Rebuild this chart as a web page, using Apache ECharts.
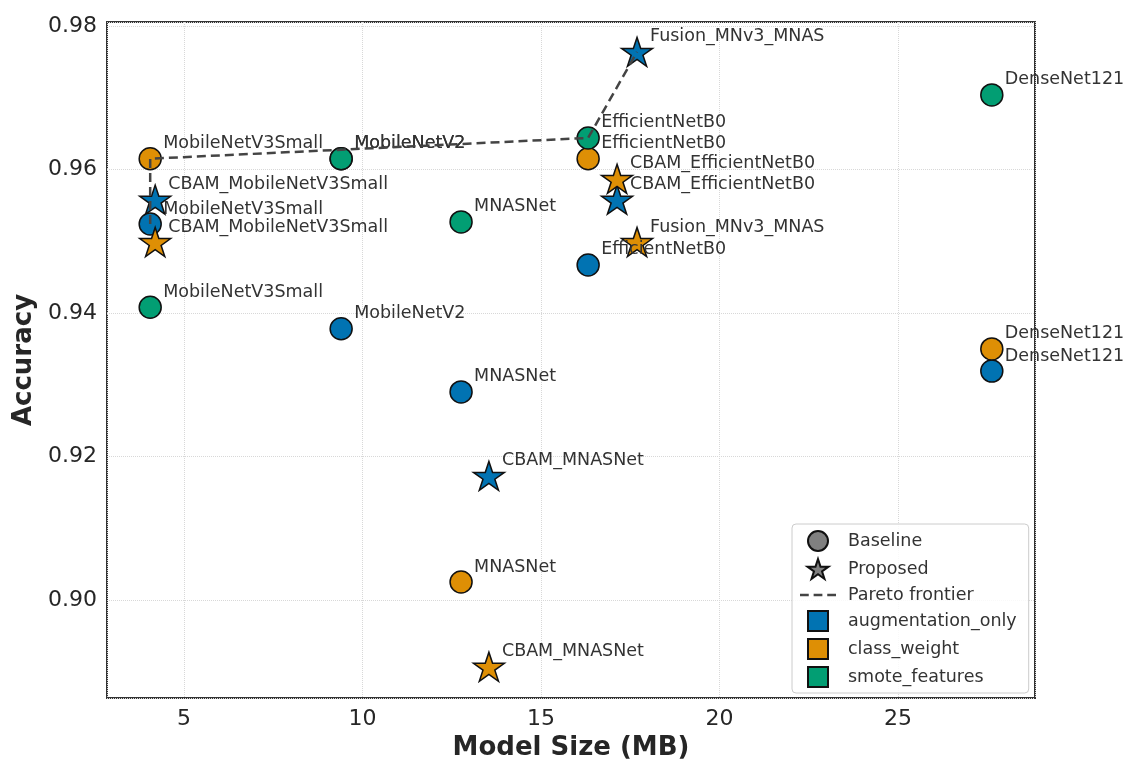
<!DOCTYPE html>
<html>
<head>
<meta charset="utf-8">
<script src="https://cdn.jsdelivr.net/npm/echarts@6/dist/echarts.min.js"></script>
<style>
  html, body { margin: 0; padding: 0; background: #fff; }
  #chart { width: 1126px; height: 763px; }
</style>
</head>
<body>
<div id="chart"></div>
<script>
// data: [model size (MB), accuracy, model name]
var groups = ['augmentation_only', 'class_weight', 'smote_features'];
var colors = ['#0173b2', '#de8f05', '#029e73'];

var baselineAug = [
  [4.05, 0.9524, 'MobileNetV3Small'],
  [9.40, 0.9378, 'MobileNetV2'],
  [12.76, 0.9290, 'MNASNet'],
  [16.32, 0.9467, 'EfficientNetB0'],
  [27.63, 0.9319, 'DenseNet121']
];
var baselineCw = [
  [4.05, 0.9615, 'MobileNetV3Small'],
  [9.40, 0.9615, 'MobileNetV2'],
  [12.76, 0.9025, 'MNASNet'],
  [16.32, 0.9615, 'EfficientNetB0'],
  [27.63, 0.9350, 'DenseNet121']
];
var baselineSmote = [
  [4.05, 0.9408, 'MobileNetV3Small'],
  [9.40, 0.9615, 'MobileNetV2'],
  [12.76, 0.9527, 'MNASNet'],
  [16.32, 0.9644, 'EfficientNetB0'],
  [27.63, 0.9704, 'DenseNet121']
];
var proposedAug = [
  [4.19, 0.9558, 'CBAM_MobileNetV3Small'],
  [13.54, 0.9173, 'CBAM_MNASNet'],
  [17.13, 0.9558, 'CBAM_EfficientNetB0'],
  [17.69, 0.9764, 'Fusion_MNv3_MNAS']
];
var proposedCw = [
  [4.19, 0.9499, 'CBAM_MobileNetV3Small'],
  [13.54, 0.8907, 'CBAM_MNASNet'],
  [17.13, 0.9587, 'CBAM_EfficientNetB0'],
  [17.69, 0.9499, 'Fusion_MNv3_MNAS']
];
var proposedSmote = [];
var pareto = [
  [4.05, 0.9524],
  [4.05, 0.9615],
  [16.32, 0.9644],
  [17.69, 0.9764]
];

var starPath = 'path://M50,0L61.23,34.55L97.55,34.55L68.17,55.9L79.39,90.45L50,69.1L20.61,90.45L31.83,55.9L2.45,34.55L38.77,34.55Z';
var squarePath = 'path://M0,0L10,0L10,10L0,10Z';
var dashPath = 'path://M0,0L9,0L9,2.6L0,2.6Z M14,0L23,0L23,2.6L14,2.6Z M28,0L37,0L37,2.6L28,2.6Z';

var chart = echarts.init(document.getElementById('chart'));

function labelOpt() {
  return {
    show: true,
    position: 'inside',
    align: 'left',
    verticalAlign: 'middle',
    offset: [13, -15],
    formatter: function (p) { return p.data[2]; },
    color: '#333',
    fontSize: 17.5,
    fontFamily: 'DejaVu Sans'
  };
}

var series = [];
[baselineAug, baselineCw, baselineSmote].forEach(function (d, i) {
  series.push({
    name: groups[i] + ' baseline',
    type: 'scatter',
    data: d,
    symbol: 'circle',
    symbolSize: 22,
    z: 2,
    itemStyle: { color: colors[i], borderColor: '#111', borderWidth: 1.5, opacity: 1 },
    label: labelOpt()
  });
});
[proposedAug, proposedCw, proposedSmote].forEach(function (d, i) {
  series.push({
    name: groups[i] + ' proposed',
    type: 'scatter',
    data: d,
    symbol: starPath,
    symbolSize: [31, 29],
    z: 2,
    itemStyle: { color: colors[i], borderColor: '#111', borderWidth: 1.5, opacity: 1 },
    label: labelOpt()
  });
});
series.push({
  name: 'Pareto frontier',
  type: 'line',
  data: pareto,
  symbol: 'none',
  symbolKeepAspect: true,
  z: 4,
  itemStyle: { color: '#444' },
  lineStyle: { color: '#444', width: 2.5, type: [9, 5] }
});
// legend-only entries
series.push({
  name: 'Baseline', type: 'scatter', data: [], symbol: 'circle', symbolKeepAspect: true,
  itemStyle: { color: '#808080', borderColor: '#111', borderWidth: 1.5, opacity: 1 }
});
series.push({
  name: 'Proposed', type: 'scatter', data: [], symbol: starPath, symbolKeepAspect: true,
  itemStyle: { color: '#808080', borderColor: '#111', borderWidth: 1.5, opacity: 1 }
});
groups.forEach(function (g, i) {
  series.push({
    name: g, type: 'scatter', data: [], symbol: squarePath, symbolKeepAspect: true,
    itemStyle: { color: colors[i], borderColor: '#111', borderWidth: 1.5, opacity: 1 }
  });
});

var option = {
  backgroundColor: '#fff',
  animation: false,
  grid: {
    left: 107, right: 91, top: 22, bottom: 65,
    containLabel: false,
    outerBoundsMode: 'none',
    show: true, borderColor: '#333', borderWidth: 2, backgroundColor: 'transparent'
  },
  xAxis: {
    type: 'value',
    min: 2.84, max: 28.84,
    splitNumber: 5,
    name: 'Model Size (MB)',
    nameLocation: 'middle',
    nameGap: 35,
    nameTextStyle: { fontSize: 26, fontWeight: 'bold', color: '#262626', fontFamily: 'DejaVu Sans' },
    axisLine: { show: false },
    axisTick: { show: false },
    axisLabel: {
      fontSize: 22, color: '#262626', margin: 10, fontFamily: 'DejaVu Sans',
      showMinLabel: false, showMaxLabel: false,
      formatter: function (v) { return Math.abs(v % 5) < 1e-6 ? String(v) : ''; }
    },
    splitLine: { show: true, lineStyle: { color: '#d8d8d8', type: 'dotted', width: 1 } }
  },
  yAxis: {
    type: 'value',
    min: 0.88634, max: 0.98056,
    splitNumber: 5,
    name: 'Accuracy',
    nameLocation: 'middle',
    nameGap: 70,
    nameTextStyle: { fontSize: 26, fontWeight: 'bold', color: '#262626', fontFamily: 'DejaVu Sans' },
    axisLine: { show: false },
    axisTick: { show: false },
    axisLabel: {
      fontSize: 22, color: '#262626', margin: 10, fontFamily: 'DejaVu Sans',
      showMinLabel: false, showMaxLabel: false,
      formatter: function (v) { return v.toFixed(2); }
    },
    splitLine: { show: true, lineStyle: { color: '#d8d8d8', type: 'dotted', width: 1 } }
  },
  legend: {
    orient: 'vertical',
    left: 792,
    top: 524,
    padding: [6, 12, 5, 8],
    itemGap: 6,
    itemWidth: 36,
    itemHeight: 20,
    selectedMode: false,
    backgroundColor: 'rgba(255,255,255,0.85)',
    borderColor: '#cccccc',
    borderWidth: 1,
    borderRadius: 4,
    textStyle: { fontSize: 17.5, color: '#333', fontFamily: 'DejaVu Sans', padding: [0, 0, 0, 7] },
    data: [
      { name: 'Baseline', icon: 'circle' },
      { name: 'Proposed', icon: starPath },
      { name: 'Pareto frontier', icon: dashPath },
      { name: 'augmentation_only', icon: squarePath },
      { name: 'class_weight', icon: squarePath },
      { name: 'smote_features', icon: squarePath }
    ]
  },
  series: series
};
chart.setOption(option);
</script>
</body>
</html>
